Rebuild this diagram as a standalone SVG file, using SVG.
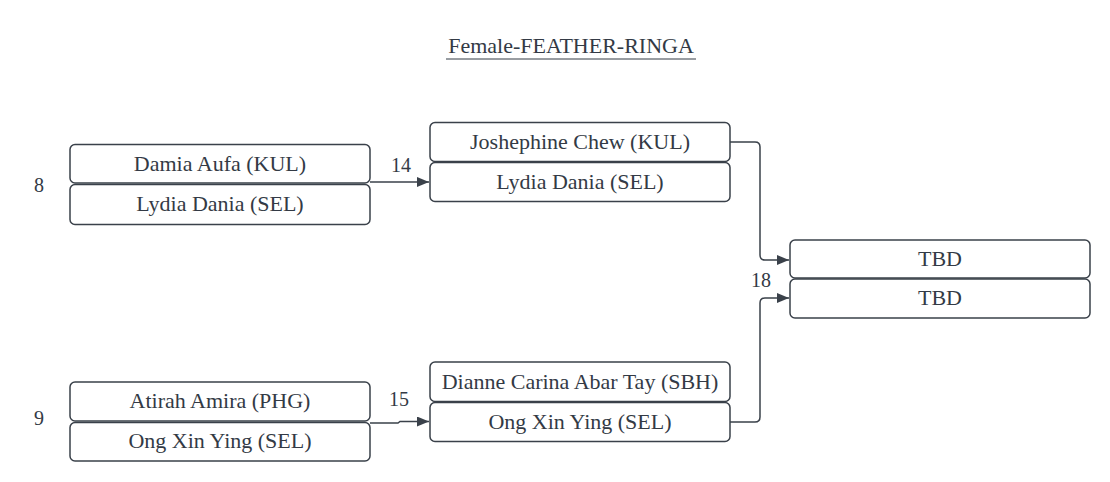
<svg xmlns="http://www.w3.org/2000/svg" width="1110" height="482" viewBox="0 0 1110 482">
<style>
.box{fill:#ffffff;stroke:#3a414a;stroke-width:1.5}
.t{font-family:"Liberation Serif","Times New Roman",serif;font-size:22px;fill:#333a45;text-anchor:middle}
.lbl{font-family:"Liberation Serif","Times New Roman",serif;font-size:20px;fill:#333a45}
.title{font-family:"Liberation Serif","Times New Roman",serif;font-size:22px;fill:#333a45;text-anchor:middle}
.c{fill:none;stroke:#3a414a;stroke-width:1.5}
</style>
<defs>
<marker id="ah" markerUnits="userSpaceOnUse" markerWidth="12" markerHeight="10" refX="12" refY="5" orient="auto">
<path d="M0,0 L12,5 L0,10 Z" fill="#3a414a"/>
</marker>
</defs>
<rect width="1110" height="482" fill="#ffffff"/>
<g id="title">
<text class="title" x="571" y="53">Female-FEATHER-RINGA</text>
<line x1="446" y1="59" x2="696" y2="59" stroke="#333a45" stroke-width="1"/>
</g>
<g id="connectors">
<path class="c" d="M370,182 H429" marker-end="url(#ah)"/>
<path class="c" d="M370,423 H398 L400,421.5 H429" marker-end="url(#ah)"/>
<path class="c" d="M730,142 H755 Q760,142 760,147 V255 Q760,260 765,260 H789" marker-end="url(#ah)"/>
<path class="c" d="M730,422 H755 Q760,422 760,417 V303 Q760,298 765,298 H789" marker-end="url(#ah)"/>
</g>
<g id="labels">
<text class="lbl" x="34" y="192">8</text>
<text class="lbl" x="34" y="425">9</text>
<text class="lbl" x="391" y="172">14</text>
<text class="lbl" x="389" y="406">15</text>
<text class="lbl" x="751" y="287">18</text>
</g>
<g id="m8">
<rect class="box" x="70" y="144.5" width="300" height="38.5" rx="5"/>
<text class="t" x="220" y="171">Damia Aufa (KUL)</text>
<rect class="box" x="70" y="184.5" width="300" height="40" rx="5"/>
<text class="t" x="220" y="211">Lydia Dania (SEL)</text>
</g>
<g id="m9">
<rect class="box" x="70" y="382" width="300" height="39" rx="5"/>
<text class="t" x="220" y="408">Atirah Amira (PHG)</text>
<rect class="box" x="70" y="422.5" width="300" height="38.5" rx="5"/>
<text class="t" x="220" y="448">Ong Xin Ying (SEL)</text>
</g>
<g id="m14">
<rect class="box" x="430" y="122.5" width="300" height="39" rx="5"/>
<text class="t" x="580" y="148.5">Joshephine Chew (KUL)</text>
<rect class="box" x="430" y="162.5" width="300" height="39" rx="5"/>
<text class="t" x="580" y="189">Lydia Dania (SEL)</text>
</g>
<g id="m15">
<rect class="box" x="430" y="362" width="300" height="39.5" rx="5"/>
<text class="t" x="580" y="388.5">Dianne Carina Abar Tay (SBH)</text>
<rect class="box" x="430" y="402.5" width="300" height="39" rx="5"/>
<text class="t" x="580" y="428.5">Ong Xin Ying (SEL)</text>
</g>
<g id="m18">
<rect class="box" x="790" y="240" width="300" height="38" rx="5"/>
<text class="t" x="940" y="266">TBD</text>
<rect class="box" x="790" y="279" width="300" height="39" rx="5"/>
<text class="t" x="940" y="305">TBD</text>
</g>
</svg>
